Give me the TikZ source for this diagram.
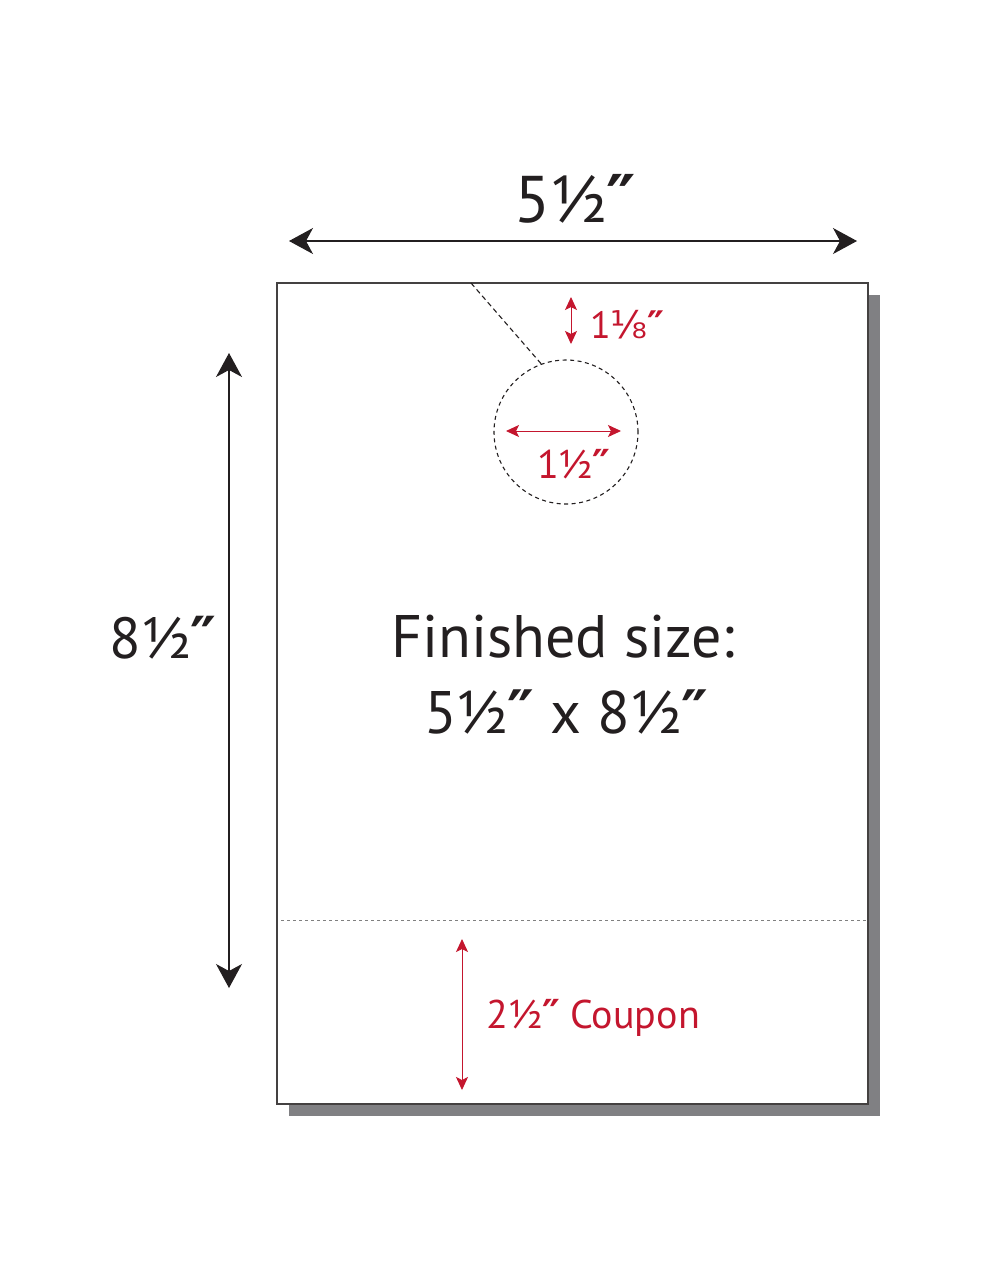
\documentclass[tikz,border=0pt]{standalone}
\usepackage{fontspec}
\setmainfont{PT Sans}
\newfontfamily\symfont{DejaVu Sans}
\newcommand{\inchmark}{{\symfont\bfseries ″}}
\newcommand{\oneeighth}{{\symfont ⅛}}
\usetikzlibrary{arrows.meta}
\definecolor{dimred}{RGB}{196,22,46}
\definecolor{shadowgray}{RGB}{128,128,131}
\definecolor{ink}{RGB}{35,31,32}
\tikzset{
  bigdim/.style={ink, line width=1.1pt, {Stealth[length=24pt,width=26pt,inset=7pt]}-{Stealth[length=24pt,width=26pt,inset=7pt]}},
  reddim/.style={dimred, line width=0.9pt, {Stealth[length=13pt,width=12pt,inset=3pt]}-{Stealth[length=13pt,width=12pt,inset=3pt]}},
  redlabel/.style={text=dimred, inner sep=0pt},
  blacklabel/.style={text=ink, inner sep=0pt},
}
\begin{document}
\begin{tikzpicture}[x=1pt,y=-1pt]
\useasboundingbox (0,0) rectangle (989,1280);
% shadow and page
\fill[shadowgray] (289,295) rectangle (880,1116);
\draw[fill=white, draw=ink!85, line width=1.3pt] (277,283) rectangle (868,1104);
% coupon perforation
\coordinate (perfL) at (281,920);
\coordinate (perfR) at (866,920);
\draw[gray, line width=0.8pt, dash pattern=on 3pt off 3pt] (perfL) -- (perfR);
% top width dimension
\coordinate (wL) at (289,241);
\coordinate (wR) at (857,241);
\draw[bigdim] (wL) -- (wR);
\node[blacklabel, anchor=base, font=\fontsize{66}{70}\selectfont] (wlab) at (575,222) {5½\inchmark};
% left height dimension
\coordinate (hT) at (229,353);
\coordinate (hB) at (229,988);
\draw[bigdim] (hT) -- (hB);
\node[blacklabel, anchor=base, font=\fontsize{58}{62}\selectfont] (hlab) at (163,658) {8½\inchmark};
% hole
\node[circle, draw=ink, dash pattern=on 4pt off 3.5pt, line width=1.1pt, minimum size=144pt, inner sep=0pt] (hole) at (566,432) {};
\coordinate (slit) at (471,283);
\draw[ink, line width=1.1pt, dash pattern=on 5pt off 3.5pt] (slit) -- (hole.110);
% hole offset dimension
\coordinate (oT) at (571,297);
\coordinate (oB) at (571,344);
\draw[reddim] (oT) -- (oB);
\node[redlabel, anchor=base west, font=\fontsize{38}{42}\selectfont] (olab) at (590,338) {1\oneeighth\inchmark};
% hole diameter
\coordinate (dL) at (506,431);
\coordinate (dR) at (621,431);
\draw[reddim] (dL) -- (dR);
\node[redlabel, anchor=base, font=\fontsize{40}{44}\selectfont] (dlab) at (574,478) {1½\inchmark};
% title
\node[blacklabel, anchor=base, font=\fontsize{60}{64}\selectfont] (title1) at (563,657) {Finished size:};
\node[blacklabel, anchor=base, font=\fontsize{60}{64}\selectfont] (title2) at (566,733) {5½\inchmark{} x 8½\inchmark};
% coupon dimension
\coordinate (cT) at (462,939);
\coordinate (cB) at (462,1090);
\draw[reddim] (cT) -- (cB);
\node[redlabel, anchor=base west, font=\fontsize{40}{44}\selectfont] (clab) at (486,1028) {2½\inchmark{} Coupon};
\end{tikzpicture}
\end{document}
